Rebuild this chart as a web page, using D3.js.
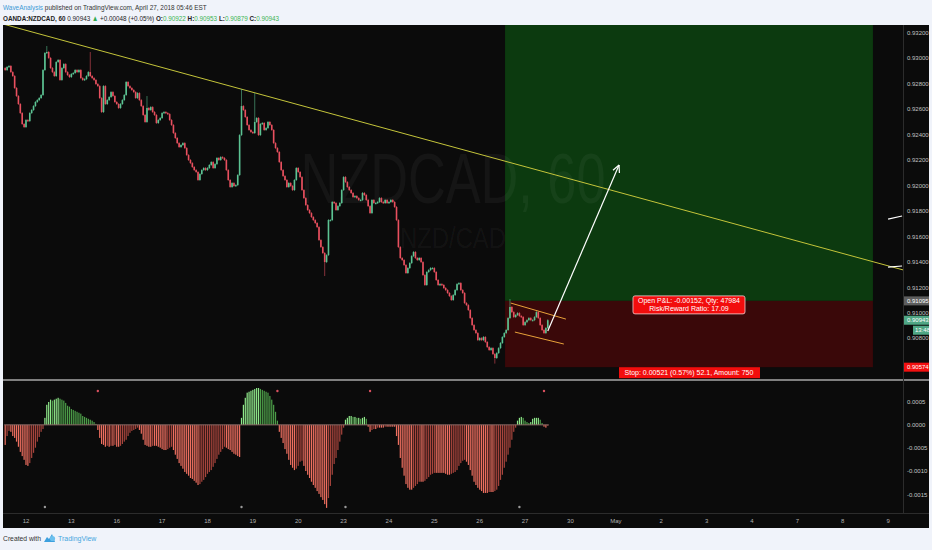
<!DOCTYPE html>
<html>
<head>
<meta charset="utf-8">
<script src="https://cdn.jsdelivr.net/npm/d3@7"></script>
<style>
  body { margin: 0; background: #f0f3fa; }
  svg { display: block; font-family: 'Liberation Sans', Arial, sans-serif; }
</style>
</head>
<body>
<div id="chart"></div>
<script>
// hourly closes, OANDA:NZDCAD (one per bar)
const closes = [
  0.92909, 0.92933, 0.92941, 0.92893, 0.92862, 0.92768, 0.92705, 0.92642, 0.92571, 0.92485,
  0.92461, 0.92516, 0.92508, 0.92571, 0.92595, 0.92626, 0.92658, 0.92673, 0.92689, 0.92713,
  0.92909, 0.93043, 0.93051, 0.93004, 0.92925, 0.92893, 0.92862, 0.92972, 0.92988, 0.92831,
  0.92925, 0.92956, 0.92893, 0.92870, 0.92854, 0.92878, 0.92886, 0.92909, 0.92893, 0.92909,
  0.92846, 0.92831, 0.92838, 0.92862, 0.92893, 0.92862, 0.92846, 0.92831, 0.92799, 0.92783,
  0.92689, 0.92579, 0.92783, 0.92642, 0.92673, 0.92697, 0.92736, 0.92705, 0.92658, 0.92642,
  0.92611, 0.92642, 0.92673, 0.92713, 0.92815, 0.92783, 0.92768, 0.92752, 0.92736, 0.92689,
  0.92728, 0.92673, 0.92626, 0.92556, 0.92501, 0.92611, 0.92595, 0.92618, 0.92579, 0.92556,
  0.92493, 0.92516, 0.92532, 0.92571, 0.92579, 0.92571, 0.92563, 0.92516, 0.92477, 0.92414,
  0.92375, 0.92335, 0.92304, 0.92320, 0.92335, 0.92296, 0.92241, 0.92202, 0.92178, 0.92147,
  0.92123, 0.92108, 0.92045, 0.92092, 0.92123, 0.92139, 0.92123, 0.92139, 0.92163, 0.92186,
  0.92139, 0.92170, 0.92218, 0.92202, 0.92225, 0.92218, 0.92202, 0.92123, 0.92045, 0.91990,
  0.92021, 0.91998, 0.92005, 0.92084, 0.92398, 0.92626, 0.92595, 0.92540, 0.92477, 0.92438,
  0.92422, 0.92414, 0.92501, 0.92532, 0.92398, 0.92485, 0.92493, 0.92438, 0.92453, 0.92501,
  0.92477, 0.92438, 0.92335, 0.92296, 0.92265, 0.92186, 0.92123, 0.92076, 0.92045, 0.91990,
  0.92021, 0.91998, 0.91966, 0.92045, 0.92139, 0.92108, 0.92068, 0.91966, 0.91903, 0.91848,
  0.91809, 0.91785, 0.91754, 0.91730, 0.91707, 0.91675, 0.91573, 0.91518, 0.91471, 0.91400,
  0.91455, 0.91730, 0.91730, 0.91872, 0.91864, 0.91809, 0.91840, 0.91864, 0.91966, 0.92068,
  0.92029, 0.91990, 0.91966, 0.91943, 0.91911, 0.91919, 0.91903, 0.91888, 0.91888, 0.91943,
  0.91927, 0.91888, 0.91840, 0.91785, 0.91888, 0.91864, 0.91864, 0.91872, 0.91903, 0.91872,
  0.91864, 0.91888, 0.91864, 0.91872, 0.91888, 0.91872, 0.91833, 0.91730, 0.91518, 0.91432,
  0.91416, 0.91377, 0.91314, 0.91353, 0.91392, 0.91447, 0.91479, 0.91432, 0.91416, 0.91432,
  0.91400, 0.91298, 0.91220, 0.91322, 0.91337, 0.91353, 0.91353, 0.91322, 0.91259, 0.91220,
  0.91227, 0.91220, 0.91196, 0.91180, 0.91157, 0.91133, 0.91102, 0.91141, 0.91180, 0.91227,
  0.91235, 0.91180, 0.91157, 0.91078, 0.91062, 0.91023, 0.90960, 0.90905, 0.90866, 0.90842,
  0.90787, 0.90803, 0.90787, 0.90811, 0.90772, 0.90732, 0.90709, 0.90724, 0.90677, 0.90646,
  0.90685, 0.90724, 0.90764, 0.90811, 0.90842, 0.90866, 0.90960, 0.91047, 0.91007, 0.90968,
  0.90984, 0.90999, 0.90976, 0.90968, 0.90905, 0.90928, 0.90944, 0.90960, 0.90944, 0.90944,
  0.90968, 0.91007, 0.90960, 0.90905, 0.90866, 0.90842, 0.90882, 0.90943,
];
const firstOpen = 0.92925;
// bars whose wick sticks out well past the body: [bar, price]
const spikeHighs = [[22, 0.93090], [45, 0.93043], [75, 0.92697], [125, 0.92752], [132, 0.92720], [267, 0.91102]];
const spikeLows = [[169, 0.91298], [259, 0.90610]];

// momentum histogram, one value per bar
const momentum = [
  -0.00043, -0.00024, -0.00013, -0.00015, -0.00024, -0.00028, -0.00036, -0.00047, -0.00058, -0.00067,
  -0.00075, -0.00086, -0.00088, -0.00082, -0.00071, -0.00060, -0.00049, -0.00036, -0.00026, -0.00015,
  -0.00009, 0.00015, 0.00043, 0.00049, 0.00054, 0.00052, 0.00054, 0.00056, 0.00058, 0.00056,
  0.00054, 0.00052, 0.00047, 0.00041, 0.00039, 0.00034, 0.00032, 0.00030, 0.00028, 0.00026,
  0.00024, 0.00019, 0.00017, 0.00015, 0.00013, 0.00011, 0.00009, 0.00006, 0.00002, -0.00011,
  -0.00028, -0.00041, -0.00043, -0.00047, -0.00045, -0.00047, -0.00045, -0.00045, -0.00043, -0.00047,
  -0.00047, -0.00045, -0.00041, -0.00036, -0.00032, -0.00024, -0.00017, -0.00013, -0.00011, -0.00009,
  -0.00006, -0.00011, -0.00019, -0.00032, -0.00043, -0.00045, -0.00047, -0.00047, -0.00045, -0.00045,
  -0.00045, -0.00047, -0.00049, -0.00052, -0.00054, -0.00054, -0.00052, -0.00049, -0.00047, -0.00054,
  -0.00064, -0.00073, -0.00082, -0.00088, -0.00094, -0.00101, -0.00105, -0.00109, -0.00114, -0.00116,
  -0.00120, -0.00124, -0.00129, -0.00127, -0.00122, -0.00118, -0.00112, -0.00105, -0.00101, -0.00097,
  -0.00090, -0.00082, -0.00073, -0.00064, -0.00058, -0.00052, -0.00047, -0.00049, -0.00052, -0.00054,
  -0.00058, -0.00062, -0.00064, -0.00067, -0.00069, 0.00015, 0.00043, 0.00058, 0.00069, 0.00071,
  0.00073, 0.00075, 0.00077, 0.00079, 0.00079, 0.00077, 0.00075, 0.00073, 0.00071, 0.00069,
  0.00062, 0.00054, 0.00043, 0.00028, 0.00009, -0.00015, -0.00028, -0.00039, -0.00052, -0.00062,
  -0.00075, -0.00086, -0.00092, -0.00097, -0.00094, -0.00088, -0.00079, -0.00077, -0.00088, -0.00099,
  -0.00107, -0.00114, -0.00122, -0.00129, -0.00135, -0.00142, -0.00148, -0.00155, -0.00161, -0.00170,
  -0.00178, -0.00157, -0.00131, -0.00107, -0.00084, -0.00071, -0.00054, -0.00036, -0.00021, -0.00006,
  0.00011, 0.00015, 0.00019, 0.00019, 0.00017, 0.00017, 0.00015, 0.00015, 0.00013, 0.00015,
  0.00017, 0.00013, -0.00004, -0.00015, -0.00011, -0.00009, -0.00009, -0.00006, -0.00006, -0.00006,
  -0.00006, -0.00004, -0.00004, -0.00004, -0.00004, -0.00004, -0.00004, -0.00024, -0.00043, -0.00071,
  -0.00092, -0.00109, -0.00127, -0.00135, -0.00139, -0.00139, -0.00135, -0.00131, -0.00127, -0.00122,
  -0.00122, -0.00122, -0.00120, -0.00116, -0.00112, -0.00107, -0.00105, -0.00103, -0.00103, -0.00103,
  -0.00103, -0.00103, -0.00103, -0.00105, -0.00107, -0.00107, -0.00105, -0.00103, -0.00101, -0.00097,
  -0.00088, -0.00082, -0.00077, -0.00075, -0.00079, -0.00086, -0.00097, -0.00109, -0.00122, -0.00129,
  -0.00135, -0.00139, -0.00142, -0.00146, -0.00146, -0.00146, -0.00144, -0.00144, -0.00144, -0.00142,
  -0.00139, -0.00131, -0.00118, -0.00107, -0.00092, -0.00079, -0.00064, -0.00049, -0.00032, -0.00015,
  -0.00006, 0.00009, 0.00015, 0.00017, 0.00015, 0.00009, 0.00006, 0.00004, 0.00006, 0.00013,
  0.00015, 0.00015, 0.00015, 0.00011, 0.00004, -0.00004, -0.00006, -0.00002,
];
const topDots = [49, 144, 193, 285];
const bottomDots = [21, 125, 180, 272];

const dayLabels = ['12', '13', '16', '17', '18', '19', '20', '23', '24', '25', '26', '27', '30', 'May', '2', '3', '4', '7', '8', '9'];
const firstDayBar = 11;
const barsPerDay = 24;
const priceTicks = [0.908, 0.910, 0.912, 0.914, 0.916, 0.918, 0.920, 0.922, 0.924, 0.926, 0.928, 0.930, 0.932];
const momentumTicks = [0.0005, 0, -0.0005, -0.001, -0.0015];

// drawings, in [bar, price]
const trendLine = [[0, 0.93266], [459, 0.91403]];
const flagUpper = [[267.4, 0.91078], [296.6, 0.90952]];
const flagLower = [[269.6, 0.90850], [295.5, 0.90756]];
const projection = [[287, 0.90858], [324.7, 0.92163]];
const axisMarks = [[[467, 0.91738], [474.4, 0.91762]], [[467, 0.91361], [474.4, 0.91369]]];
const longPosition = { startBar: 264.4, endBar: 459, entry: 0.91095, stop: 0.90574 };
const lastPrice = 0.90943;

const W = 932;
const H = 550;
const frame = { left: 3, right: 929, top: 25, bottom: 528 };
const plotRight = 903;
const pricePane = { top: 25, bottom: 379 };
const momPane = { top: 381, bottom: 513 };

const x = d3.scaleLinear().domain([-1.16, 474.9]).range([frame.left, plotRight]);
const yPrice = d3.scaleLinear().domain([0.90489, 0.93263]).range([378, 25]);
const yMom = d3.scaleLinear().domain([-0.00189, 0.00094]).range([513, 381]);

const svg = d3.select('#chart').append('svg')
  .attr('width', W)
  .attr('height', H);

function fitWidth(g, x0, width) {
  const bb = g.node().getBBox();
  g.attr('transform', `translate(${x0},0) scale(${width / bb.width},1) translate(${-bb.x},0)`);
}

// header
const head1 = svg.append('g');
const t1 = head1.append('text').attr('y', 10).style('font-size', '8px');
t1.append('tspan').attr('fill', '#3d9ad6').text('WaveAnalysis');
t1.append('tspan').attr('fill', '#333').text(' published on TradingView.com, April 27, 2018 05:46 EST');
fitWidth(head1, 3, 204);

const head2 = svg.append('g');
const t2 = head2.append('text').attr('y', 21).style('font-size', '8px').attr('fill', '#222');
t2.append('tspan').style('font-weight', 'bold').text('OANDA:NZDCAD, 60 ');
t2.append('tspan').text('0.90943 ');
t2.append('tspan').attr('fill', '#2fa84f').text('▲');
t2.append('tspan').text(' +0.00048 (+0.05%) ');
[['O:', '0.90922'], ['H:', '0.90953'], ['L:', '0.90879'], ['C:', '0.90943']].forEach(([k, v], i) => {
  t2.append('tspan').style('font-weight', 'bold').text((i ? ' ' : '') + k);
  t2.append('tspan').attr('fill', '#3cb452').text(v);
});
fitWidth(head2, 3, 277);

// chart background
svg.append('rect')
  .attr('x', frame.left).attr('y', frame.top)
  .attr('width', frame.right - frame.left).attr('height', frame.bottom - frame.top)
  .attr('fill', '#0b0b0b');

const defs = svg.append('defs');
defs.append('clipPath').attr('id', 'clip-price').append('rect')
  .attr('x', frame.left).attr('y', pricePane.top)
  .attr('width', plotRight - frame.left).attr('height', pricePane.bottom - pricePane.top);
defs.append('clipPath').attr('id', 'clip-mom').append('rect')
  .attr('x', frame.left).attr('y', momPane.top)
  .attr('width', plotRight - frame.left).attr('height', momPane.bottom - momPane.top);

const price = svg.append('g').attr('clip-path', 'url(#clip-price)');

// long position box
price.append('rect')
  .attr('x', x(longPosition.startBar)).attr('y', pricePane.top)
  .attr('width', x(longPosition.endBar) - x(longPosition.startBar))
  .attr('height', yPrice(longPosition.entry) - pricePane.top)
  .attr('fill', '#0c3a0f');
price.append('rect')
  .attr('x', x(longPosition.startBar)).attr('y', yPrice(longPosition.entry))
  .attr('width', x(longPosition.endBar) - x(longPosition.startBar))
  .attr('height', yPrice(longPosition.stop) - yPrice(longPosition.entry))
  .attr('fill', '#3a0809');

// watermark
const wmX = (frame.left + plotRight) / 2;
price.append('text')
  .attr('x', wmX).attr('y', 203)
  .attr('text-anchor', 'middle')
  .attr('textLength', 305).attr('lengthAdjust', 'spacingAndGlyphs')
  .style('font-size', '70px')
  .attr('fill', '#fff').attr('fill-opacity', 0.045)
  .text('NZDCAD, 60');
price.append('text')
  .attr('x', wmX).attr('y', 248)
  .attr('text-anchor', 'middle')
  .attr('textLength', 106).attr('lengthAdjust', 'spacingAndGlyphs')
  .style('font-size', '29px')
  .attr('fill', '#fff').attr('fill-opacity', 0.045)
  .text('NZD/CAD');

// trend line, extended across the pane
const slope = (trendLine[1][1] - trendLine[0][1]) / (trendLine[1][0] - trendLine[0][0]);
const [b0, b1] = x.domain();
price.append('line')
  .attr('x1', x(b0)).attr('y1', yPrice(trendLine[0][1] + slope * (b0 - trendLine[0][0])))
  .attr('x2', x(b1)).attr('y2', yPrice(trendLine[0][1] + slope * (b1 - trendLine[0][0])))
  .attr('stroke', '#c4c43a').attr('stroke-width', 1);

// candles
const candles = closes.map((c, i) => {
  const o = i === 0 ? firstOpen : closes[i - 1];
  return { i, o, c, h: Math.max(o, c), l: Math.min(o, c) };
});
spikeHighs.forEach(([i, p]) => { candles[i].h = Math.max(candles[i].h, p); });
spikeLows.forEach(([i, p]) => { candles[i].l = Math.min(candles[i].l, p); });
const candleColor = d => (d.c >= d.o ? '#5cc393' : '#e8505f');

price.append('g')
  .selectAll('line')
  .data(candles)
  .enter()
  .append('line')
  .attr('x1', d => x(d.i)).attr('x2', d => x(d.i))
  .attr('y1', d => yPrice(d.h) - 1)
  .attr('y2', d => yPrice(d.l) + 1)
  .attr('stroke', candleColor)
  .attr('stroke-opacity', 0.7)
  .attr('stroke-width', 0.8);
price.append('g')
  .selectAll('rect')
  .data(candles)
  .enter()
  .append('rect')
  .attr('x', d => x(d.i) - 0.8)
  .attr('width', 1.6)
  .attr('y', d => yPrice(Math.max(d.o, d.c)))
  .attr('height', d => Math.max(1.2, Math.abs(yPrice(d.o) - yPrice(d.c))))
  .attr('fill', candleColor);

// flag channel
[flagUpper, flagLower].forEach((seg) => {
  price.append('line')
    .attr('x1', x(seg[0][0])).attr('y1', yPrice(seg[0][1]))
    .attr('x2', x(seg[1][0])).attr('y2', yPrice(seg[1][1]))
    .attr('stroke', '#e8a23a').attr('stroke-width', 1);
});

// projection arrow
const ax1 = x(projection[0][0]);
const ay1 = yPrice(projection[0][1]);
const ax2 = x(projection[1][0]);
const ay2 = yPrice(projection[1][1]);
const ang = Math.atan2(ay2 - ay1, ax2 - ax1);
price.append('line')
  .attr('x1', ax1).attr('y1', ay1).attr('x2', ax2).attr('y2', ay2)
  .attr('stroke', '#fff').attr('stroke-width', 1.2);
[-0.45, 0.45].forEach((da) => {
  price.append('line')
    .attr('x1', ax2).attr('y1', ay2)
    .attr('x2', ax2 - 8 * Math.cos(ang + da)).attr('y2', ay2 - 8 * Math.sin(ang + da))
    .attr('stroke', '#fff').attr('stroke-width', 1.2);
});
axisMarks.forEach((seg) => {
  price.append('line')
    .attr('x1', x(seg[0][0])).attr('y1', yPrice(seg[0][1]))
    .attr('x2', x(seg[1][0])).attr('y2', yPrice(seg[1][1]))
    .attr('stroke', '#fff').attr('stroke-width', 1.2);
});

// position labels
const boxMid = (x(longPosition.startBar) + x(longPosition.endBar)) / 2;
const pnl = svg.append('g');
pnl.append('rect')
  .attr('x', boxMid - 56).attr('y', yPrice(longPosition.entry) - 5)
  .attr('width', 112).attr('height', 18).attr('rx', 2)
  .attr('fill', '#f20d0d').attr('stroke', '#f4d0d0').attr('stroke-width', 0.8);
pnl.append('text')
  .attr('x', boxMid).attr('y', yPrice(longPosition.entry) + 2.5)
  .attr('text-anchor', 'middle').attr('fill', '#fff').style('font-size', '7px')
  .text('Open P&L: -0.00152, Qty: 47984');
pnl.append('text')
  .attr('x', boxMid).attr('y', yPrice(longPosition.entry) + 10)
  .attr('text-anchor', 'middle').attr('fill', '#fff').style('font-size', '7px')
  .text('Risk/Reward Ratio: 17.09');
svg.append('rect')
  .attr('x', boxMid - 70).attr('y', yPrice(longPosition.stop))
  .attr('width', 141).attr('height', 11)
  .attr('fill', '#f20d0d');
svg.append('text')
  .attr('x', boxMid).attr('y', yPrice(longPosition.stop) + 8)
  .attr('text-anchor', 'middle').attr('fill', '#fff').style('font-size', '7px')
  .text('Stop: 0.00521 (0.57%) 52.1, Amount: 750');

// momentum pane
const mom = svg.append('g').attr('clip-path', 'url(#clip-mom)');
const momColor = (v, i) => {
  const prev = i === 0 ? v : momentum[i - 1];
  if (v >= 0) return v >= prev ? '#8fe88a' : '#4d9e49';
  return v <= prev ? '#ee6f60' : '#a8453d';
};
mom.selectAll('rect')
  .data(momentum)
  .enter()
  .append('rect')
  .attr('x', (d, i) => x(i) - 0.6)
  .attr('width', 1.2)
  .attr('y', d => Math.min(yMom(d), yMom(0)))
  .attr('height', d => Math.abs(yMom(d) - yMom(0)))
  .attr('fill', momColor);
mom.append('line')
  .attr('x1', x(0) - 1).attr('x2', x(momentum.length - 1) + 1)
  .attr('y1', yMom(0)).attr('y2', yMom(0))
  .attr('stroke', '#8a6a66').attr('stroke-width', 1);
mom.selectAll('circle.top')
  .data(topDots)
  .enter()
  .append('circle')
  .attr('class', 'top')
  .attr('cx', d => x(d)).attr('cy', momPane.top + 10).attr('r', 1.2)
  .attr('fill', '#d9505f');
mom.selectAll('circle.bottom')
  .data(bottomDots)
  .enter()
  .append('circle')
  .attr('class', 'bottom')
  .attr('cx', d => x(d)).attr('cy', momPane.bottom - 6).attr('r', 1.2)
  .attr('fill', '#9a9a9a');

// separators
svg.append('line')
  .attr('x1', frame.left).attr('x2', frame.right)
  .attr('y1', 380).attr('y2', 380)
  .attr('stroke', '#a8a8a8').attr('stroke-width', 1.6);
svg.append('line')
  .attr('x1', plotRight + 0.5).attr('x2', plotRight + 0.5)
  .attr('y1', frame.top).attr('y2', momPane.bottom)
  .attr('stroke', '#2c2c2c');
svg.append('line')
  .attr('x1', frame.left).attr('x2', frame.right)
  .attr('y1', momPane.bottom + 0.5).attr('y2', momPane.bottom + 0.5)
  .attr('stroke', '#2c2c2c');

// price axis
const fmtPrice = d3.format('.5f');
svg.append('g')
  .selectAll('text')
  .data(priceTicks)
  .enter()
  .append('text')
  .attr('x', 907)
  .attr('y', d => yPrice(d) + 2)
  .attr('fill', '#c4c4c4')
  .style('font-size', '6px')
  .text(d => fmtPrice(d));

function axisTag(value, bg, label, left) {
  const y = yPrice(value);
  svg.append('rect')
    .attr('x', left).attr('y', y - 4.5)
    .attr('width', frame.right - left).attr('height', 9)
    .attr('fill', bg);
  svg.append('text')
    .attr('x', left + 3).attr('y', y + 2)
    .attr('fill', '#fff')
    .style('font-size', '6px')
    .text(label);
}
axisTag(longPosition.entry, '#5e5e5e', fmtPrice(longPosition.entry), 904);
axisTag(lastPrice, '#4fa684', fmtPrice(lastPrice), 904);
axisTag(longPosition.stop, '#f21010', fmtPrice(longPosition.stop), 904);
svg.append('rect')
  .attr('x', 913).attr('y', yPrice(lastPrice) + 5.5)
  .attr('width', frame.right - 913).attr('height', 9)
  .attr('fill', '#4fa684');
svg.append('text')
  .attr('x', 915).attr('y', yPrice(lastPrice) + 12)
  .attr('fill', '#fff')
  .style('font-size', '6px')
  .text('13:48');

// momentum axis
const fmtMom = v => d3.format('.4f')(v).replace('\u2212', '-');
svg.append('g')
  .selectAll('text')
  .data(momentumTicks)
  .enter()
  .append('text')
  .attr('x', 907)
  .attr('y', d => yMom(d) + 2)
  .attr('fill', '#c4c4c4')
  .style('font-size', '6px')
  .text(d => fmtMom(d));

// time axis
svg.append('g')
  .selectAll('text')
  .data(dayLabels)
  .enter()
  .append('text')
  .attr('x', (d, k) => x(firstDayBar + k * barsPerDay))
  .attr('y', 523)
  .attr('text-anchor', 'middle')
  .attr('fill', '#b0b0b0')
  .style('font-size', '6px')
  .text(d => d);

// footer
const foot = svg.append('g');
foot.append('text').attr('y', 541).attr('fill', '#333').style('font-size', '7.5px').text('Created with');
fitWidth(foot, 3, 38);
const logo = svg.append('g').attr('transform', 'translate(44,534)');
logo.append('path')
  .attr('d', 'M0,8 L3,3 L5,5 L8,0 L11,8 Z')
  .attr('fill', '#3ca0de');
logo.append('circle').attr('cx', 8.5).attr('cy', 4.5).attr('r', 2.6).attr('fill', '#6cc0ee');
const tv = svg.append('g');
tv.append('text').attr('y', 541).attr('fill', '#45a6e0').style('font-size', '7.5px').text('TradingView');
fitWidth(tv, 58, 39);
</script>
</body>
</html>
